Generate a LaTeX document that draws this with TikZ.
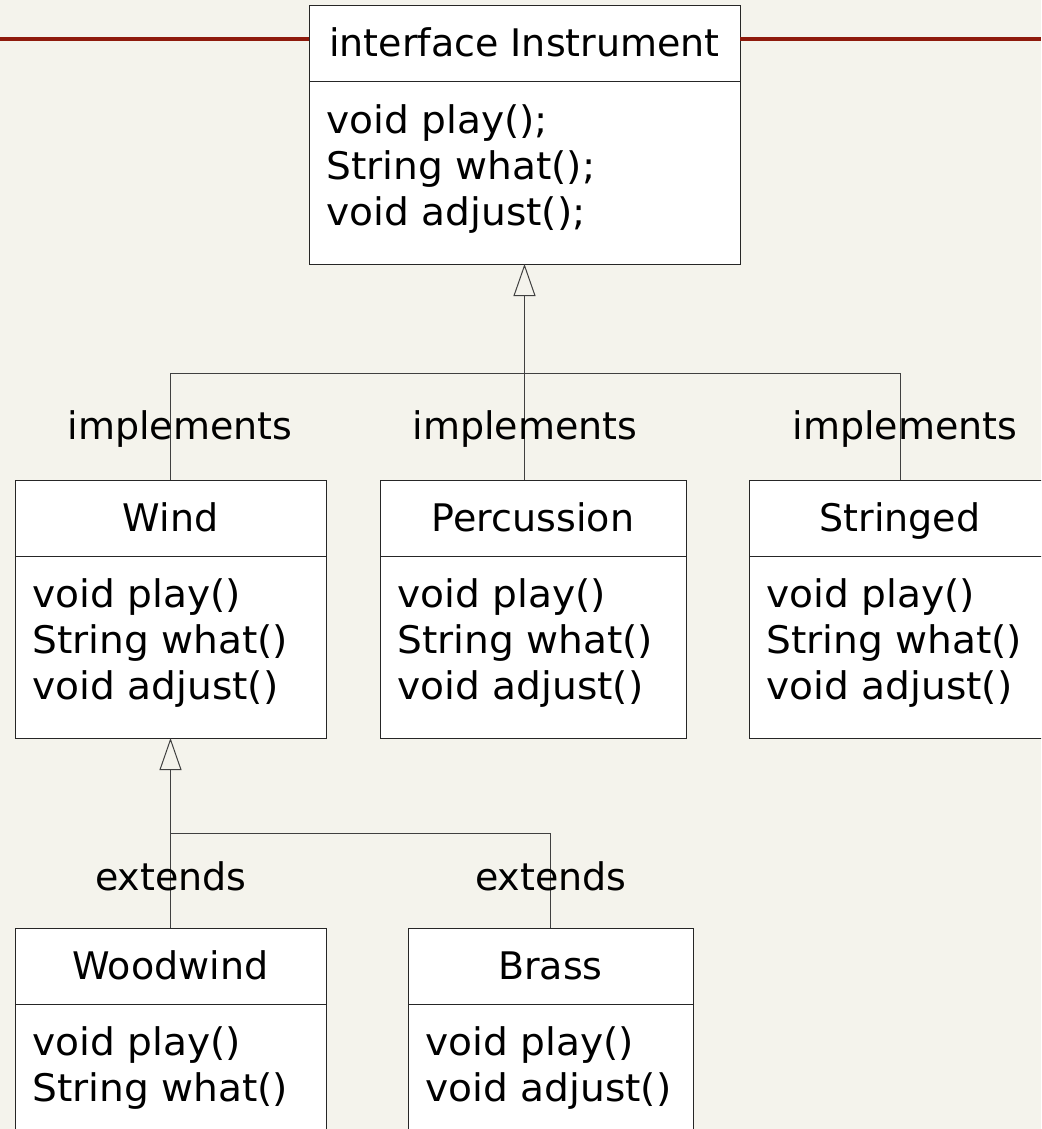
\documentclass[tikz,border=0pt]{standalone}
\usepackage{fontspec}
\setmainfont{DejaVu Sans}
\newfontfamily\widefont[FakeStretch=1.03]{DejaVu Sans}
\usetikzlibrary{arrows.meta}
\definecolor{bgc}{HTML}{F4F3EC}
\definecolor{rulec}{HTML}{8E1A0C}
\tikzset{
  clsbox/.style={draw=black!85, fill=white, line width=1pt, inner sep=0pt, outer sep=0pt, anchor=north west},
  divline/.style={draw=black!85, line width=1pt},
  txt/.style={font=\fontsize{38}{46}\selectfont, inner sep=0pt, text=black},
  wtxt/.style={font=\widefont\fontsize{38}{46}\selectfont, inner sep=0pt, text=black},
  conn/.style={draw=black!75, line width=1pt},
  gen/.style={conn, -{Triangle[open, width=22pt, length=32pt]}},
}
\newcommand\umlbox[7]{%
  \node[clsbox, minimum width={(#4-#2)*1pt}, minimum height={(#5-#3)*1pt}] (#1) at (#2,#3) {};
  \draw[divline] (#2,{#3+76}) -- (#4,{#3+76});
  \node[txt, anchor=base] (#1-t) at ({(#2+#4)/2},{#3+51}) {#6};
  \foreach \m [count=\i] in {#7} {
    \node[wtxt, anchor=base west] (#1-m\i) at ({#2+17},{#3+76+51+(\i-1)*46}) {\m};
  }%
}
\begin{document}
\begin{tikzpicture}[x=1pt,y=-1pt]
\fill[bgc] (0,0) rectangle (1041,1129);
\useasboundingbox (0,0) rectangle (1041,1129);
\clip (0,0) rectangle (1041,1129);

\umlbox{inst}{309}{6}{740}{264}{interface Instrument}{void play();,String what();,void adjust();}
\coordinate (rl) at (0,39);
\coordinate (rr) at (1041,39);
\draw[rulec, line width=4.5pt] (rl) -- (rl -| inst.west);
\draw[rulec, line width=4.5pt] (rr -| inst.east) -- (rr);

\umlbox{wind}{15}{480}{326}{738}{Wind}{void play(),String what(),void adjust()}
\umlbox{perc}{380}{480}{686}{738}{Percussion}{void play(),String what(),void adjust()}
\umlbox{str}{749}{480}{1051}{738}{Stringed}{void play(),String what(),void adjust()}
\umlbox{wood}{15}{928}{326}{1186}{Woodwind}{void play(),String what()}
\umlbox{brass}{408}{928}{693}{1186}{Brass}{void play(),void adjust()}

% implements
\coordinate (hub) at (0,373);
\draw[gen] (inst.south |- perc.north) -- (inst.south);
\draw[conn] (wind.north |- hub) -- (str.north |- hub);
\draw[conn] (wind.north |- hub) -- (wind.north);
\draw[conn] (str.north |- hub) -- (str.north);
\node[txt] (l1) at (180,429) {implements};
\node[txt] (l2) at (525,429) {implements};
\node[txt] (l3) at (905,429) {implements};

% extends
\coordinate (hub2) at (0,833);
\draw[gen] (wood.north) -- (wind.south);
\draw[conn] (wood.north |- hub2) -- (brass.north |- hub2) -- (brass.north);
\node[txt] (e1) at (171,876) {extends};
\node[txt] (e2) at (551,876) {extends};
\end{tikzpicture}
\end{document}
